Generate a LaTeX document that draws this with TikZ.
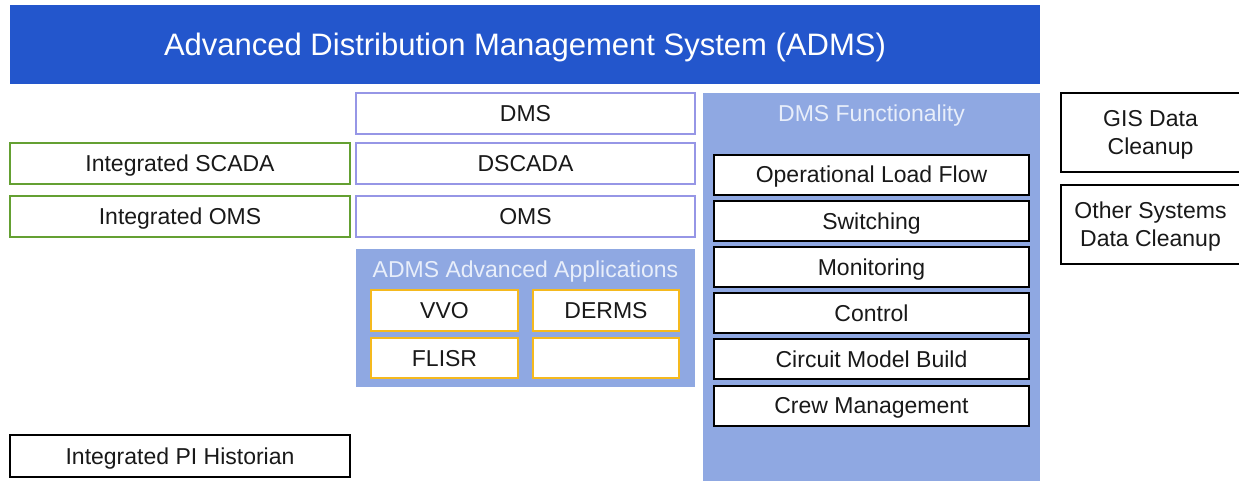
\documentclass[tikz,border=0pt]{standalone}
\usepackage{fontspec}
\setmainfont{Liberation Sans}
\definecolor{titleblue}{RGB}{35,86,204}
\definecolor{panelblue}{RGB}{143,168,226}
\definecolor{paneltext}{RGB}{232,238,250}
\definecolor{lavender}{RGB}{150,150,230}
\definecolor{leafgreen}{RGB}{100,160,50}
\definecolor{amber}{RGB}{245,185,30}
\definecolor{ink}{RGB}{25,25,25}
\begin{document}
\begin{tikzpicture}[x=1pt,y=-1pt,
  every node/.style={inner sep=0pt, outer sep=0pt, font=\fontsize{23}{28}\selectfont, text=ink,
    text height=16.5pt, text depth=0pt},
  titlebar/.style={fill=titleblue, draw=none, minimum width=1030pt, minimum height=79pt,
    font=\fontsize{31}{36}\selectfont, text=white, text height=22pt},
  dmsbox/.style={draw=lavender, line width=1.4pt, fill=white, minimum width=339pt, minimum height=41pt},
  greenbox/.style={draw=leafgreen, line width=1.8pt, fill=white, minimum width=340pt, minimum height=41pt},
  panel/.style={fill=panelblue, draw=none},
  paneltitle/.style={text=paneltext},
  appbox/.style={draw=amber, line width=1.8pt, fill=white, minimum height=41pt},
  funcbox/.style={draw=black, line width=2pt, fill=white, minimum width=315pt, minimum height=40pt},
  blackbox/.style={draw=black, line width=2pt, fill=white},
  cleanbox/.style={draw=black, line width=2pt, fill=white, minimum width=179pt, minimum height=79pt,
    align=center, text height=, text depth=0pt}
]
\useasboundingbox[fill=white] (0,0) rectangle (1239,480);

% header
\node[titlebar] (title) at (525,44.5) {Advanced Distribution Management System (ADMS)};

% core DMS stack
\node[dmsbox] (dms) at (525.5,113.5) {DMS};
\node[dmsbox] (dscada) at (525.5,163.5) {DSCADA};
\node[dmsbox] (oms) at (525.5,216.5) {OMS};

% integrations
\node[greenbox] (iscada) at (180,163.5) {Integrated SCADA};
\node[greenbox] (ioms) at (180,216.5) {Integrated OMS};
\node[blackbox, minimum width=340pt, minimum height=42pt] (pi) at (180,456) {Integrated PI Historian};

% advanced applications
\node[panel, minimum width=339pt, minimum height=138pt] (apps) at (525.5,318) {};
\node[paneltitle] (appstitle) at (525.5,269) {ADMS Advanced Applications};
\node[appbox, minimum width=147pt] (vvo) at (444.5,310.5) {VVO};
\node[appbox, minimum width=146pt] (derms) at (606,310.5) {DERMS};
\node[appbox, minimum width=147pt, minimum height=40pt] (flisr) at (444.5,358) {FLISR};
\node[appbox, minimum width=146pt, minimum height=40pt] (spare) at (606,358) {};

% DMS functionality
\node[panel, minimum width=337pt, minimum height=392pt] (func) at (871.5,289) {};
\node[paneltitle] (functitle) at (871.5,113) {DMS Functionality};
\node[funcbox] (olf) at (871.5,174.5) {Operational Load Flow};
\node[funcbox] (sw) at (871.5,221) {Switching};
\node[funcbox] (mon) at (871.5,267) {Monitoring};
\node[funcbox] (ctl) at (871.5,313) {Control};
\node[funcbox] (cmb) at (871.5,359) {Circuit Model Build};
\node[funcbox] (crew) at (871.5,405.5) {Crew Management};

% data cleanup
\node[cleanbox] (gis) at (1150.5,132.5) {GIS Data\\Cleanup};
\node[cleanbox] (other) at (1150.5,224.5) {Other Systems\\Data Cleanup};
\end{tikzpicture}
\end{document}
